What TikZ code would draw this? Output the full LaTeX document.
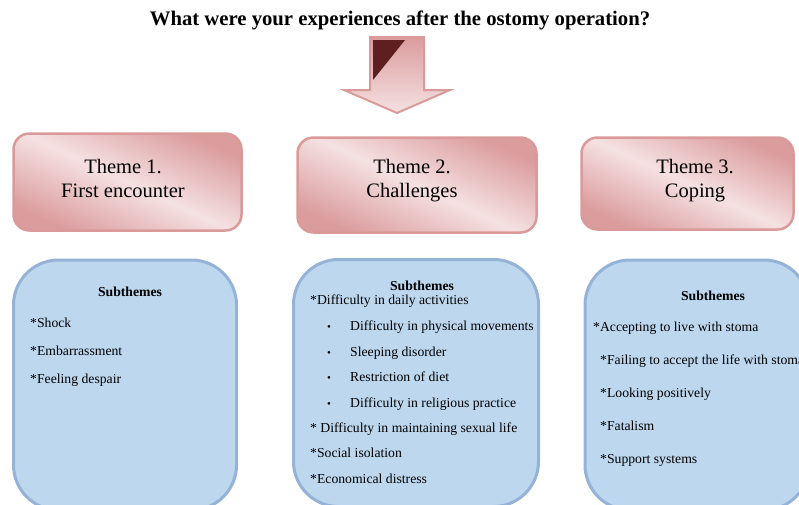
\documentclass[tikz,border=0pt]{standalone}
\usepackage{fontspec}
\setmainfont{Liberation Serif}
\usetikzlibrary{positioning}
\definecolor{pinkLight}{HTML}{F5E1E2}
\definecolor{pinkDark}{HTML}{DB9C9D}
\definecolor{pinkLine}{HTML}{DA9A9A}
\definecolor{blueFill}{HTML}{BDD7EE}
\definecolor{blueLine}{HTML}{95B3D7}
\definecolor{arrowDark}{HTML}{5E1F20}
\tikzset{
  themebox/.style={draw=pinkLine, line width=2.5pt, rounded corners=16pt,
                   left color=pinkDark, right color=pinkDark, middle color=pinkLight,
                   shading angle=-25},
  themetext/.style={align=center, inner sep=0pt, font=\fontsize{20.5}{24}\selectfont},
  subbox/.style={draw=blueLine, line width=3pt, rounded corners=45pt, fill=blueFill},
  item/.style={anchor=west, inner sep=0pt, text height=9pt, text depth=3pt,
               font=\fontsize{13.7}{16}\selectfont},
  subhead/.style={inner sep=0pt, text height=9pt, text depth=3pt,
                  font=\bfseries\fontsize{13.7}{16}\selectfont},
}
\begin{document}
\begin{tikzpicture}[x=1pt,y=-1pt]
  \useasboundingbox (0,0) rectangle (799,504);
  \clip (0,0) rectangle (799,504);
  \node[font=\bfseries\fontsize{20.7}{24}\selectfont, inner sep=0pt] (title) at (400,20)
       {What were your experiences after the ostomy operation?};
  % arrow
  \draw[pinkLine, line width=2pt, top color=pinkDark, bottom color=pinkLight]
       (370,37) -- (424,37) -- (424,90) -- (450,90) -- (397,113) -- (344,90)
       -- (370,90) -- cycle;
  \fill[arrowDark] (373,40) -- (405,40) -- (373,80) -- cycle;
  % themes
  \node[themebox, minimum width=228pt, minimum height=97pt] (theme1) at (127.5,182) {};
  \node[themebox, minimum width=239pt, minimum height=95pt] (theme2) at (417,185) {};
  \node[themebox, minimum width=212pt, minimum height=92pt] (theme3) at (687.5,183.5) {};
  \node[themetext] (name1) at (123,181) {Theme 1.\strut\\First encounter\strut};
  \node[themetext] (name2) at (412,181) {Theme 2.\strut\\Challenges\strut};
  \node[themetext] (name3) at (695,181) {Theme 3.\strut\\Coping\strut};
  % subthemes
  \node[subbox, minimum width=223pt, minimum height=250pt] (sub1) at (125,385) {};
  \node[subbox, minimum width=245pt, minimum height=247pt] (sub2) at (416,383) {};
  \node[subbox, minimum width=224pt, minimum height=250pt] (sub3) at (697,385) {};

  \node[subhead] (head1) at (130,293) {Subthemes};
  \node[item] (shock) at (30,324) {*Shock};
  \node[item] (embar) at (30,352) {*Embarrassment};
  \node[item] (despair) at (30,380) {*Feeling despair};

  \node[subhead] (head2) at (422,287) {Subthemes};
  \node[item] (daily) at (310,301) {*Difficulty in daily activities};
  \foreach \txt/\yy [count=\i] in {Difficulty in physical movements/327,
      Sleeping disorder/353, Restriction of diet/378,
      Difficulty in religious practice/404} {
    \node[item, font=\fontsize{11}{12}\selectfont] (dot\i) at (327,\yy) {\textbullet};
    \node[item] (bul\i) at (350,\yy) {\txt};
  }
  \node[item] (sexual) at (310,429) {* Difficulty in maintaining sexual life};
  \node[item] (social) at (310,454) {*Social isolation};
  \node[item] (econ) at (310,480) {*Economical distress};

  \node[subhead] (head3) at (713,297) {Subthemes};
  \node[item] (accept) at (593,328) {*Accepting to live with stoma};
  \node[item] (fail) at (600,361) {*Failing to accept the life with stoma};
  \node[item] (posit) at (600,394) {*Looking positively};
  \node[item] (fatal) at (600,427) {*Fatalism};
  \node[item] (support) at (600,460) {*Support systems};
\end{tikzpicture}
\end{document}
